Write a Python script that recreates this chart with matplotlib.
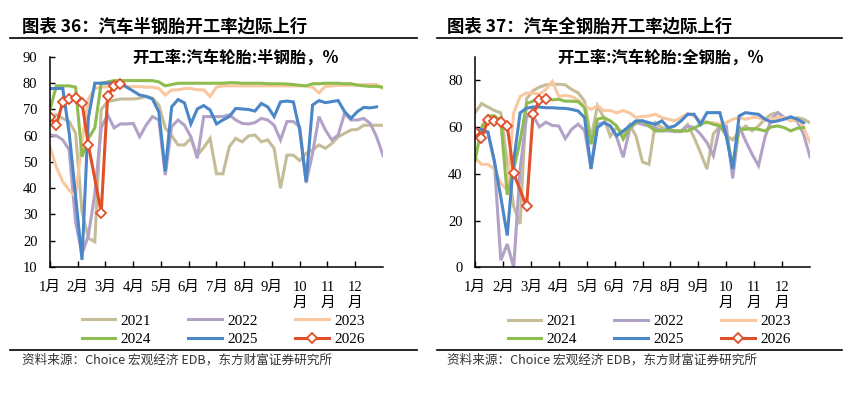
import numpy as np
import matplotlib
matplotlib.use("Agg")
import matplotlib.pyplot as plt
from matplotlib.lines import Line2D

plt.rcParams['font.family'] = ['Noto Sans CJK SC', 'DejaVu Sans']

# ---- data: weekly operating rate (%) ----
years = ["2021", "2022", "2023", "2024", "2025", "2026"]
colors = ["#c4bd97", "#b3a2c7", "#fac8a0", "#8fbc4f", "#4a86c8", "#e0502a"]
month_labels = ["1月", "2月", "3月", "4月", "5月", "6月", "7月", "8月", "9月",
                "10\n月", "11\n月", "12\n月"]

# 半钢胎
semi_2021 = [67.3, 68, 66.6, 65.4, 61, 31, 21, 19.6, 70, 73,
             73.5, 74, 74, 74, 74.3, 75, 74.3, 71.7, 63, 60,
             56.5, 56.5, 59, 52.5, 55.5, 59, 45.5, 45.5, 55.8, 59,
             57.7, 59.9, 60.3, 57.7, 58.4, 55.2, 40, 52.6, 52.6, 50.5,
             53.3, 54.6, 56.5, 55.2, 57, 59.6, 60.9, 62.2, 62.4, 64,
             64, 64, 64]
semi_2022 = [60.3, 60, 58.4, 54.6, 27, 15, 22, 38, 63, 68,
             63, 64.5, 64.5, 64.7, 59.6, 64, 67.3, 66, 45, 63.5,
             66, 64, 59.6, 51.4, 67.3, 67.3, 67.3, 67.3, 68, 66,
             64.7, 64.5, 65, 66.6, 66, 64, 58.4, 65.4, 65.4, 63.5,
             42, 53.3, 67.3, 62.2, 58.4, 60.3, 68.5, 66, 66, 66.6,
             64.7, 59.6, 52.5]
semi_2023 = [55.8, 48, 42.5, 39.3, 36.8, 58, 74, 78, 78.5, 78.7,
             78.7, 78.7, 78.7, 78.7, 78.7, 78.5, 78.5, 78, 75.5, 77.4,
             77.5, 78, 78, 77.5, 77.5, 75, 78.5, 79, 79, 79,
             79, 79, 79, 79, 79, 79, 79, 79, 79, 79,
             79, 78.5, 76.3, 78.8, 79, 79.2, 79.2, 79.3, 79.3, 79.4,
             79.5, 79.5, 78]
semi_2024 = [70, 79, 79, 79, 78.5, 52, 59, 63, 80, 80.5,
             81, 81, 81, 81, 81, 81, 81, 80.5, 79, 79.5,
             80, 80, 80, 80, 80, 80, 80, 80, 80.2, 80.2,
             80, 80, 80, 80, 79.8, 79.8, 79.8, 79.7, 79.5, 79.2,
             79, 79.8, 79.8, 80, 80, 80, 79.8, 79.8, 79.3, 79,
             78.8, 78.8, 78.5]
semi_2025 = [78, 78, 78, 61, 37, 12.7, 67, 80, 80, 80,
             80, 80, 78.5, 77, 75.5, 75, 74, 69, 46.5, 71,
             73.8, 72.5, 64.5, 70.2, 71.5, 69.8, 64.5, 66, 67.3, 70.4,
             70.2, 70, 69.4, 72.3, 71, 67.3, 72.9, 73.2, 72.9, 62,
             42.5, 71.7, 73.4, 72.6, 73, 73.4, 69.2, 66.6, 69.2, 70.8,
             70.6, 71]
semi_2026_weeks = [0, 1, 2, 3, 4, 5, 6, 8, 9, 10, 11]
semi_2026 = [67, 64, 73, 74, 74.5, 72.5, 56.5, 30.7, 75, 79, 79.7]

# 全钢胎
all_2021 = [66, 70, 68.5, 67, 66, 45, 26, 18.5, 72, 75.5,
            77, 78, 78.2, 78.2, 78, 76, 74.6, 71, 55, 69,
            64, 56, 60, 57, 61, 56, 45, 44, 61.8, 59.7,
            59, 58.3, 58.3, 61, 55.5, 49, 42, 57, 60.4, 56.2,
            54.5, 58, 60.4, 58.3, 60.4, 63.3, 65.4, 66.1, 64, 62.6,
            64, 63.3, 61.8]
all_2022 = [57, 58, 58, 45, 3, 10, 0, 42, 64.5, 64.8,
            60, 62, 60.6, 60.4, 55, 59, 61.2, 58.5, 43, 61.1,
            61.8, 60.4, 55.5, 47, 59, 61.8, 61.1, 60.4, 59.7, 58.3,
            58.3, 58, 58, 60.4, 59.7, 56.9, 53.3, 47.7, 60.4, 60.4,
            38, 60.4, 54, 48.4, 43.4, 55.5, 63.3, 66.1, 64, 63.3,
            62.6, 56.9, 47.2]
all_2023 = [47, 44, 44, 42, 36, 33, 66, 73, 74.5, 74.5,
            74, 76, 79.5, 73, 73.5, 73, 71.5, 69, 67.5, 69,
            67, 67, 66, 67, 66, 64, 64.5, 64.7, 65.4, 64,
            63.3, 62.6, 64, 65.7, 64.7, 62.6, 61.8, 61.8, 61.1, 61.8,
            63.3, 64, 63.3, 64, 64, 62.6, 63.3, 64, 64, 62.6,
            63.3, 59.7, 53.3]
all_2024 = [45.5, 59.7, 64.7, 64.7, 62.6, 31, 42, 54, 70, 71,
            71.8, 72.5, 71.5, 71.8, 71, 71, 70.8, 68.2, 52.6, 63.3,
            64, 62.6, 60.4, 54.8, 59.7, 61.8, 62.6, 60.4, 58.3, 58.3,
            59, 58.3, 58.3, 58.3, 59.4, 61.1, 62.1, 61.1, 60.4, 57,
            43.4, 59, 59, 59.3, 59, 58.3, 60, 60.4, 59.7, 58.3,
            59.4, 59.7]
all_2025 = [58.3, 59, 57.6, 45.5, 30, 13.6, 45.5, 66, 68, 68.5,
            68.5, 68.2, 68.2, 68, 67.9, 67.5, 66.8, 64, 42, 59.7,
            61.8, 60.4, 56.2, 58.3, 60.4, 62.6, 62.6, 61.8, 61.1, 62.6,
            59.7, 60.4, 62.6, 65.4, 65.4, 61.1, 66.1, 66.1, 66.1, 56,
            42, 64.7, 66.1, 65.7, 65.4, 63.3, 62.1, 62.6, 63.3, 64.3,
            63.3, 61.8]
all_2026_weeks = [0, 1, 2, 3, 4, 5, 6, 8, 9, 10, 11]
all_2026 = [57.9, 55.2, 62.8, 62.6, 62.3, 60.4, 40.1, 26, 65.4, 71.3, 72.1]

SERIF = ['Liberation Serif', 'Noto Sans CJK SC']

fig = plt.figure(figsize=(8.53, 3.93), dpi=100)


def draw_panel(ax, series, last_weeks, last_vals, ylim, yticks):
    for yr, vals, c in zip(years[:5], series, colors[:5]):
        ax.plot(np.arange(len(vals)), vals, color=c, lw=2.2, label=yr,
                solid_joinstyle='miter')
    ax.plot(last_weeks, last_vals, color=colors[5], lw=2.2, marker='D', ms=5.5,
            mfc='white', mec=colors[5], mew=1.3, label=years[5])
    ax.set_xlim(0, 52)
    ax.set_ylim(*ylim)
    ax.set_yticks(yticks)
    ax.set_xticks(np.arange(12) * 52 / 12)
    ax.set_xticklabels(month_labels, family=SERIF, fontsize=10.5,
                       linespacing=1.3, va='top')
    for t in ax.get_yticklabels():
        t.set_family(SERIF)
        t.set_fontsize(10.5)
    for s in ("top", "right"):
        ax.spines[s].set_visible(False)
    for s in ("left", "bottom"):
        ax.spines[s].set_linewidth(1.1)
    ax.tick_params(axis='y', direction='in', length=3.5, width=1, pad=9)
    ax.tick_params(axis='x', direction='in', length=4, width=1, pad=10)
    h, l = ax.get_legend_handles_labels()
    order = [0, 3, 1, 4, 2, 5]
    ax.legend([h[i] for i in order], [l[i] for i in order], ncol=3,
              loc='center', bbox_to_anchor=(0.52, -0.3), frameon=False,
              prop={'family': SERIF, 'size': 11}, handlelength=2.2,
              handletextpad=0.35, columnspacing=2.45, labelspacing=0.3)


ax1 = fig.add_axes([0.0586, 0.3206, 0.3904, 0.5344])
draw_panel(ax1, [semi_2021, semi_2022, semi_2023, semi_2024, semi_2025],
           semi_2026_weeks, semi_2026, (10, 90), np.arange(10, 91, 10))

ax2 = fig.add_axes([0.5569, 0.3198, 0.3927, 0.5359])
draw_panel(ax2, [all_2021, all_2022, all_2023, all_2024, all_2025],
           all_2026_weeks, all_2026, (0, 90), np.arange(0, 81, 20))

# titles, rules and sources
fig.text(22 / 853, 1 - 27 / 393, "图表 36：汽车半钢胎开工率边际上行",
         fontsize=12.5, fontweight='bold', va='center', ha='left')
fig.text(447 / 853, 1 - 27 / 393, "图表 37：汽车全钢胎开工率边际上行",
         fontsize=12.5, fontweight='bold', va='center', ha='left')
fig.text(235 / 853, 1 - 58 / 393, "开工率:汽车轮胎:半钢胎，%",
         fontsize=11.8, fontweight='bold', va='center', ha='center')
fig.text(660 / 853, 1 - 58 / 393, "开工率:汽车轮胎:全钢胎，%",
         fontsize=11.8, fontweight='bold', va='center', ha='center')

for x0, x1 in ((10, 417), (437, 842)):
    for y in (38, 350):
        fig.add_artist(Line2D([x0 / 853, x1 / 853], [1 - y / 393, 1 - y / 393],
                              color='black', lw=1.2))

src = "资料来源：Choice 宏观经济 EDB，东方财富证券研究所"
fig.text(22 / 853, 1 - 360 / 393, src, fontsize=9.1, color='#333333',
         va='center', ha='left')
fig.text(447 / 853, 1 - 360 / 393, src, fontsize=9.1, color='#333333',
         va='center', ha='left')

fig.savefig("out.png", dpi=100, facecolor='white')
